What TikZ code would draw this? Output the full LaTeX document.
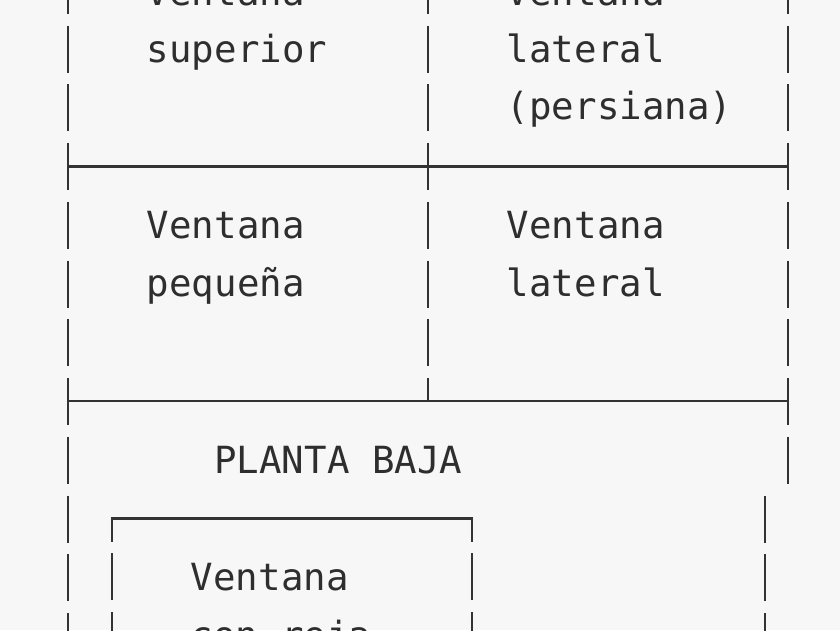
\documentclass[tikz,border=0pt]{standalone}
\usepackage{fontspec}
\setmonofont{DejaVu Sans Mono}
\usetikzlibrary{positioning}
\definecolor{fondoc}{HTML}{F7F7F7}
\colorlet{lineac}{black!80}
\colorlet{textoc}{black!82}

\begin{document}
\begin{tikzpicture}[x=1pt,y=-1pt,
  pared/.style={draw=lineac,line width=2.7pt,dash pattern=on 47pt off 11.75pt},
  tabique/.style={draw=lineac,line width=2.4pt},
  rotulo/.style={anchor=base west,inner sep=0pt,text=textoc,font=\ttfamily\fontsize{37.4}{44}\selectfont}]
\useasboundingbox (0,0) rectangle (840,630);
\fill[fondoc] (0,0) rectangle (840,630);
\clip (0,0) rectangle (840,630);

% muros (columnas de la planta alta)
\coordinate (izqA) at (68,-33.25);
\coordinate (izqB) at (68,660);
\coordinate (medA) at (428,-33.25);
\coordinate (medB) at (428,401);
\coordinate (derA) at (788,-33.25);
\coordinate (derB) at (788,484);
\coordinate (bajA) at (765,495.5);
\coordinate (bajB) at (765,660);
\draw[pared] (izqA) -- (izqB);
\draw[pared] (medA) -- (medB);
\draw[pared] (derA) -- (derB);
\draw[pared] (bajA) -- (bajB);

% pisos
\coordinate (pisoA1) at (68,166.5);
\coordinate (pisoA2) at (788,166.5);
\coordinate (pisoB1) at (68,401);
\coordinate (pisoB2) at (788,401);
\draw[tabique] (pisoA1) -- (pisoA2);
\draw[tabique] (pisoB1) -- (pisoB2);

% ventana con reja
\coordinate (rejNO) at (112,518.5);
\coordinate (rejNE) at (472,518.5);
\coordinate (rejSO) at (112,660);
\coordinate (rejSE) at (472,660);
\draw[tabique,line cap=rect] (rejNO) -- (rejNE);
\draw[pared,dash phase=24pt] (rejNO) -- (rejSO);
\draw[pared,dash phase=24pt] (rejNE) -- (rejSE);

% rotulos
\node[rotulo] (supA) at (146.75,5) {Ventana};
\node[rotulo] (supB) at (146.75,62) {superior};
\node[rotulo] (latA) at (506.75,5) {Ventana};
\node[rotulo] (latB) at (506.75,62) {lateral};
\node[rotulo] (latC) at (506.75,119) {(persiana)};
\node[rotulo] (pqA) at (146.75,238) {Ventana};
\node[rotulo] (pqB) at (146.75,296) {pequeña};
\node[rotulo] (ltA) at (506.75,238) {Ventana};
\node[rotulo] (ltB) at (506.75,296) {lateral};
\node[rotulo] (planta) at (214.25,473) {PLANTA BAJA};
\node[rotulo] (rejA) at (190.75,590) {Ventana};
\node[rotulo] (rejB) at (190.75,648) {con reja};

\end{tikzpicture}
\end{document}
